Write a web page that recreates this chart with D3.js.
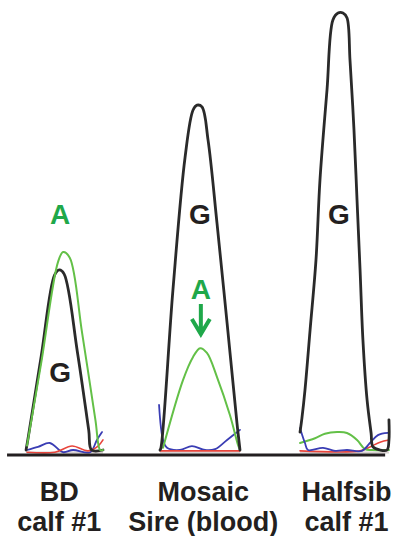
<!DOCTYPE html>
<html>
<head>
<meta charset="utf-8">
<script src="https://cdn.jsdelivr.net/npm/d3@7"></script>
<style>
  html, body { margin: 0; padding: 0; background: #fff; }
  svg { display: block; }
  .trace { fill: none; stroke-linejoin: round; stroke-linecap: round; }
  .lbl { font-family: "Liberation Sans", Arial, sans-serif; font-weight: bold; }
</style>
</head>
<body>
<div id="chart"></div>
<script>
// sample names, two lines each
const samples = [["BD", "calf #1"], ["Mosaic", "Sire (blood)"], ["Halfsib", "calf #1"]];
// centre scan of each sample window
const sampleCentres = [27, 102.8, 178.2];

// traces as [scan, signal]
const bdBlack = [[9.5, 0], [10.5, 25], [17.5, 215], [24.5, 400], [27, 412], [29.5, 403], [36.5, 225], [42.5, 45], [44, 0], [50, 0]];
const bdGreen = [[10, 10], [17.5, 200], [26.3, 430], [29, 453], [32.5, 440], [39, 268], [46, 69], [48.5, 0], [50, 0]];
const bdBlue = [[10, 0], [15.8, 7], [22, 16], [28.9, -5], [34.2, 0], [43.2, -5], [46.8, 23], [49.5, 41]];
const bdRed = [[10, -5], [24.7, -5], [33.7, 9], [42.1, -2], [47.4, 9], [50, 23]];

const sireBlack = [[80, 0], [80.5, 5], [86.8, 366], [93.2, 670], [97.4, 778], [99.5, 789], [102.1, 785], [105.3, 709], [110, 519], [115.3, 291], [120.5, 62], [122.1, 0]];
const sireGreen = [[81.6, 5], [92.1, 160], [97.4, 213], [101.1, 233], [104.7, 222], [110, 167], [116.8, 80], [121.1, 11], [122.1, 0]];
const sireBlue = [[79.5, 103], [81.6, 23], [83.7, 5], [90.5, 0], [96.8, 9], [103.7, 0], [109, 2], [115.3, 23], [122.1, 46]];
const sireRed = [[80, -2], [101, -2], [122.1, -2]];

const halfBlack = [[153.7, 41], [154.7, 73], [156.3, 137], [159, 275], [162.1, 435], [164.2, 618], [167.9, 824], [171, 984], [173.7, 1000], [176.3, 1000], [178.4, 989], [180, 892], [182.1, 732], [183.7, 572], [185.3, 412], [186.8, 252], [189, 114], [191.1, 39], [192.1, 7], [195.8, 0], [199.5, 0], [200.5, 23], [200.5, 69]];
const halfGreen = [[153.7, 16], [161.6, 27], [166.8, 37], [173.2, 41], [178.4, 39], [183.7, 23], [187.9, 2], [191.6, 0], [200.5, 0]];
const halfBlue = [[153.7, 50], [156.3, 16], [157.9, 0], [165.8, 5], [172.1, -2], [178.4, 0], [186.3, -2], [190.5, 16], [194.7, 34], [200, 39]];
const halfRed = [[153.7, -2], [185.3, -2], [190.5, 7], [195.8, 18], [200.5, 23]];

// base calls: [scan, base]
const callsTop = [[27.4, "A"], [101, "G"], [174.2, "G"]];
const callsLow = [[27.4, "G"], [101.5, "A"]];

const W = 396, H = 536;
const svg = d3.select("#chart").append("svg").attr("width", W).attr("height", H);

const x = d3.scaleLinear().domain([0, 200]).range([8, 388]);
const y = d3.scaleLinear().domain([0, 1000]).range([450, 13]);

const colors = { black: "#2a2a2a", green: "#63c047", blue: "#3a3db4", red: "#e8453c" };
const line = d3.line().x(d => x(d[0])).y(d => y(d[1])).curve(d3.curveCatmullRom.alpha(0.5));

// faint trace baselines
[[10, 50], [80, 122.1], [153.7, 200.5]].forEach(r => {
  svg.append("line")
    .attr("x1", x(r[0])).attr("x2", x(r[1]))
    .attr("y1", y(-6)).attr("y2", y(-6))
    .attr("stroke", "#d8d0d0").attr("stroke-width", 2);
});

const traces = [
  [bdBlue, "blue", 1.8], [bdRed, "red", 1.6], [bdBlack, "black", 2.8], [bdGreen, "green", 2],
  [sireBlue, "blue", 1.8], [sireRed, "red", 1.6], [sireGreen, "green", 2], [sireBlack, "black", 2.8],
  [halfRed, "red", 1.6], [halfGreen, "green", 2], [halfBlue, "blue", 1.8], [halfBlack, "black", 2.8]
];
traces.forEach(t => {
  svg.append("path").datum(t[0])
    .attr("class", "trace")
    .attr("d", line)
    .attr("stroke", colors[t[1]])
    .attr("stroke-width", t[2]);
});

// axis line
svg.append("line")
  .attr("x1", x(-0.5)).attr("x2", x(198.5))
  .attr("y1", 455).attr("y2", 455)
  .attr("stroke", "#231f20").attr("stroke-width", 3);

const callColor = b => b === "A" ? "#1fa84a" : "#231f20";

svg.selectAll(".callTop").data(callsTop).enter().append("text")
  .attr("class", "lbl callTop")
  .attr("x", d => x(d[0])).attr("y", 224)
  .attr("text-anchor", "middle").attr("font-size", 28)
  .attr("fill", d => callColor(d[1]))
  .text(d => d[1]);

svg.selectAll(".callLow").data(callsLow).enter().append("text")
  .attr("class", "lbl callLow")
  .attr("x", d => x(d[0]))
  .attr("y", (d, i) => i === 0 ? 382 : 299)
  .attr("text-anchor", "middle").attr("font-size", 28)
  .attr("fill", d => callColor(d[1]))
  .text(d => d[1]);

// down arrow under the minor A
const ax = x(callsLow[1][0]);
svg.append("path")
  .attr("d", `M${ax},304 L${ax},333 M${ax - 9},319 L${ax},334 L${ax + 9},319`)
  .attr("fill", "none").attr("stroke", "#1fa84a").attr("stroke-width", 4)
  .attr("stroke-linejoin", "miter");

// sample labels, one text per line
samples.forEach((s, i) => {
  s.forEach((txt, j) => {
    svg.append("text").attr("class", "lbl")
      .attr("x", x(sampleCentres[i])).attr("y", j === 0 ? 501 : 531)
      .attr("text-anchor", "middle")
      .attr("font-size", 27).attr("fill", "#231f20")
      .text(txt);
  });
});
</script>
</body>
</html>
